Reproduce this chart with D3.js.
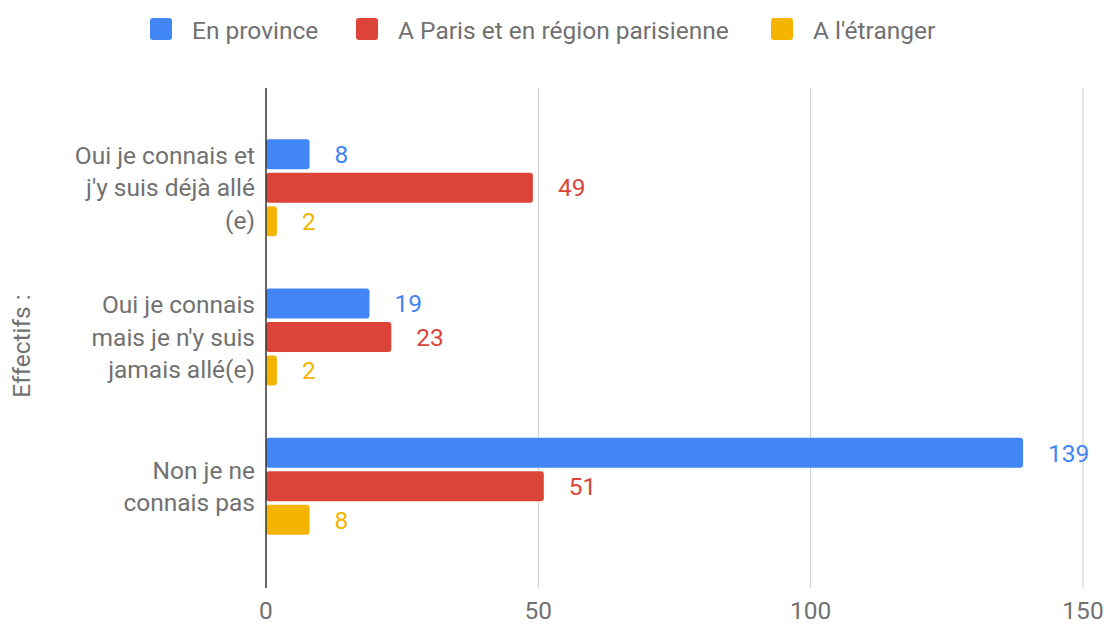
<!DOCTYPE html>
<html>
<head>
<meta charset="utf-8">
<script src="https://cdn.jsdelivr.net/npm/d3@7"></script>
<style>
  body { margin: 0; background: #fff; }
  text { font-family: Roboto, "Noto Sans", sans-serif; }
</style>
</head>
<body>
<svg></svg>
<script>
const width = 1107;
const height = 628;

// data
const categories = [
  ["Oui je connais et", "j'y suis déjà allé", "(e)"],
  ["Oui je connais", "mais je n'y suis", "jamais allé(e)"],
  ["Non je ne", "connais pas"]
];
const seriesNames = ["En province", "A Paris et en région parisienne", "A l'étranger"];
const province = [8, 19, 139];
const paris = [49, 23, 51];
const etranger = [2, 2, 8];
const xTicks = [0, 50, 100, 150];
const colors = ["#4285f4", "#db4437", "#f4b400"];

const series = [province, paris, etranger];
const fs = 24.5;
const gray = "#717171";

const svg = d3.select("svg")
  .attr("width", width)
  .attr("height", height);

const x = d3.scaleLinear().domain([0, 150]).range([266, 1083]);
const y = d3.scaleBand().domain(d3.range(categories.length)).range([113, 561]);
const barH = 30, barGap = 3.5;

// grid lines
svg.append("g")
  .selectAll("line")
  .data(xTicks.filter(d => d !== 0))
  .join("line")
  .attr("x1", d => x(d)).attr("x2", d => x(d))
  .attr("y1", 88).attr("y2", 588)
  .attr("stroke", "#cccccc")
  .attr("stroke-width", 1);

// tick labels
svg.append("g")
  .selectAll("text")
  .data(xTicks)
  .join("text")
  .attr("x", d => x(d))
  .attr("y", 619)
  .attr("text-anchor", "middle")
  .attr("font-size", fs)
  .attr("fill", gray)
  .text(d => d);

// bars
series.forEach((vals, s) => {
  const g = svg.append("g");
  const yy = i => y(i) + y.bandwidth() / 2 + (s - 1) * (barH + barGap) - barH / 2;
  g.selectAll("rect")
    .data(vals)
    .join("rect")
    .attr("x", x(0))
    .attr("y", (d, i) => yy(i))
    .attr("width", d => x(d) - x(0))
    .attr("height", barH)
    .attr("rx", 3)
    .attr("fill", colors[s]);
  g.selectAll("text")
    .data(vals)
    .join("text")
    .attr("x", d => x(d) + 25)
    .attr("y", (d, i) => yy(i) + barH / 2)
    .attr("dy", "0.36em")
    .attr("font-size", fs)
    .attr("fill", colors[s])
    .text(d => d);
});

// zero line
svg.append("line")
  .attr("x1", x(0)).attr("x2", x(0))
  .attr("y1", 88).attr("y2", 588)
  .attr("stroke", "#333333")
  .attr("stroke-width", 1.5);

// category labels
const lineH = 32.5;
categories.forEach((lines, i) => {
  const cy = y(i) + y.bandwidth() / 2;
  const t = svg.append("text")
    .attr("text-anchor", "end")
    .attr("font-size", fs)
    .attr("fill", gray);
  lines.forEach((l, k) => {
    t.append("tspan")
      .attr("x", 255)
      .attr("y", cy + (k - (lines.length - 1) / 2) * lineH)
      .attr("dy", "0.36em")
      .text(l);
  });
});

// y axis title
svg.append("text")
  .attr("transform", "translate(30,346) rotate(-90)")
  .attr("text-anchor", "middle")
  .attr("font-size", fs)
  .attr("fill", gray)
  .text("Effectifs :");

// legend
const legendX = [150, 356, 771];
const legend = svg.append("g")
  .selectAll("g")
  .data(seriesNames)
  .join("g")
  .attr("transform", (d, i) => `translate(${legendX[i]},18)`);
legend.append("rect")
  .attr("width", 22).attr("height", 22).attr("rx", 3)
  .attr("fill", (d, i) => colors[i]);
legend.append("text")
  .attr("x", 42).attr("y", 12).attr("dy", "0.36em")
  .attr("font-size", fs)
  .attr("fill", gray)
  .text(d => d);
</script>
</body>
</html>
